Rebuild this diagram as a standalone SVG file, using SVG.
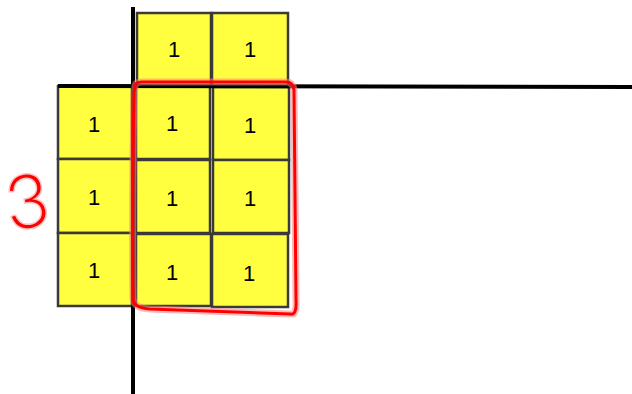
<svg xmlns="http://www.w3.org/2000/svg" width="632" height="394" viewBox="0 0 632 394">
<style>
.cell rect{fill:#ffff40;stroke:#3a3a3a;stroke-width:2.5}
.num{font-family:"Liberation Sans",Arial,sans-serif;font-size:22px;fill:#000;text-anchor:middle}
.axis{stroke:#000;stroke-width:4}
.red{fill:none;stroke:#ff0000;stroke-width:3;stroke-linejoin:round;stroke-linecap:round}
.halo{fill:none;stroke:#ff8080;stroke-opacity:0.55;stroke-width:7;stroke-linejoin:round;stroke-linecap:round}
</style>
<rect width="632" height="394" fill="#fff"/>
<g id="cells">
<g id="c-t1" class="cell"><rect x="137" y="13" width="74" height="73"/><text class="num" x="174" y="57">1</text></g>
<g id="c-t2" class="cell"><rect x="212" y="13" width="76" height="73"/><text class="num" x="250" y="57">1</text></g>
<g id="c-11" class="cell"><rect x="58" y="86" width="74" height="73"/><text class="num" x="94" y="132">1</text></g>
<g id="c-12" class="cell"><rect x="136" y="86" width="74" height="73"/><text class="num" x="172" y="131">1</text></g>
<g id="c-13" class="cell"><rect x="213" y="87" width="76" height="73"/><text class="num" x="250" y="133">1</text></g>
<g id="c-21" class="cell"><rect x="58" y="159" width="74" height="74"/><text class="num" x="94" y="205">1</text></g>
<g id="c-22" class="cell"><rect x="136" y="160" width="74" height="73"/><text class="num" x="172" y="206">1</text></g>
<g id="c-23" class="cell"><rect x="213" y="160" width="76" height="73"/><text class="num" x="250" y="206">1</text></g>
<g id="c-31" class="cell"><rect x="58" y="233" width="74" height="73"/><text class="num" x="94" y="278">1</text></g>
<g id="c-32" class="cell"><rect x="136" y="234" width="75" height="72"/><text class="num" x="172" y="280">1</text></g>
<g id="c-33" class="cell"><rect x="212" y="234" width="76" height="73"/><text class="num" x="249" y="281">1</text></g>
</g>
<g id="axes">
<line class="axis" x1="133" y1="7" x2="133" y2="394"/>
<line class="axis" x1="58" y1="86" x2="632" y2="87"/>
</g>
<g id="highlight">
<path class="halo" d="M135,88 Q134,82 142,82 L286,82 Q293,82 294,90 L296,300 Q297,316 290,314 L150,309 Q133,308 133,298 Q132,200 134,92 Z"/>
<path class="red" d="M135,88 Q134,82 142,82 L286,82 Q293,82 294,90 L296,300 Q297,316 290,314 L150,309 Q133,308 133,298 Q132,200 134,92 Z"/>
<text x="27" y="199" font-family="Lato,'Open Sans',sans-serif" font-weight="300" font-size="74" fill="#ff0000" stroke="#ff8080" stroke-opacity="0.5" stroke-width="3" paint-order="stroke" text-anchor="middle" dominant-baseline="central" transform="rotate(-8 27 199)">3</text>
</g>
</svg>
